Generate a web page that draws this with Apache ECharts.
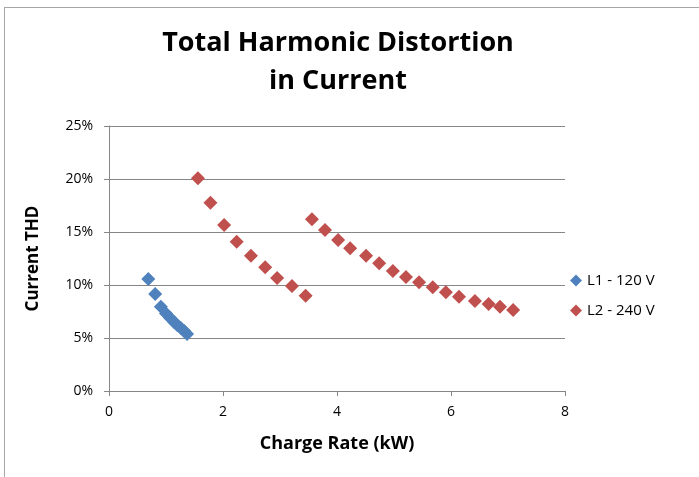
<!DOCTYPE html>
<html>
<head>
<meta charset="utf-8">
<script src="https://cdn.jsdelivr.net/npm/echarts@6/dist/echarts.min.js"></script>
<style>
html,body{margin:0;padding:0;background:#fff;}
#frame{position:absolute;left:4px;top:7px;width:700px;height:480px;border-left:1px solid #a6a6a6;border-top:1px solid #a6a6a6;}
#chart{position:absolute;left:0;top:0;width:699px;height:477px;}
</style>
</head>
<body>
<div id="frame"></div>
<div id="chart"></div>
<script>
const titleText = "Total Harmonic Distortion\nin Current";
const xAxisName = "Charge Rate (kW)";
const yAxisName = "Current THD";
const seriesNames = ["L1 - 120 V", "L2 - 240 V"];
const l1X = [0.69, 0.81, 0.91, 1.00, 1.07, 1.14, 1.20, 1.26, 1.32, 1.37];
const l1Y = [10.57, 9.15, 7.95, 7.3, 6.9, 6.5, 6.2, 5.95, 5.65, 5.38];
const l2X = [1.56, 1.78, 2.02, 2.24, 2.49, 2.74, 2.95, 3.21, 3.45,
             3.56, 3.79, 4.02, 4.23, 4.51, 4.74, 4.98, 5.21, 5.44, 5.68, 5.91, 6.14, 6.42, 6.66, 6.86, 7.09];
const l2Y = [20.07, 17.76, 15.66, 14.08, 12.76, 11.67, 10.66, 9.91, 8.99,
             16.2, 15.2, 14.25, 13.46, 12.76, 12.05, 11.32, 10.75, 10.25, 9.78, 9.31, 8.9, 8.5, 8.2, 7.95, 7.64];

const font = "'Open Sans', 'Noto Sans', sans-serif";
const chart = echarts.init(document.getElementById('chart'), null, {renderer: 'canvas'});
function pairs(xs, ys){ return xs.map((x,i)=>[x, ys[i]]); }
chart.setOption({
  animation: false,
  backgroundColor: 'transparent',
  title: {
    text: titleText, left: 333, top: 19, textAlign: 'center',
    textStyle: {fontFamily: font, fontWeight: 'bold', fontSize: 27, color: '#000', lineHeight: 38}
  },
  legend: {
    orient: 'vertical', left: 565, top: 268, itemGap: 15,
    itemWidth: 12, itemHeight: 12,
    textStyle: {fontFamily: font, fontSize: 15, color: '#000'},
    data: [{name: seriesNames[0], icon: 'diamond'}, {name: seriesNames[1], icon: 'diamond'}]
  },
  grid: {left: 109, top: 126, width: 456, height: 265, containLabel: false},
  xAxis: {
    type: 'value', min: 0, max: 8, interval: 2,
    name: xAxisName, nameLocation: 'middle', nameGap: 44,
    nameTextStyle: {fontFamily: font, fontWeight: 'bold', fontSize: 18, color: '#000'},
    axisLine: {show: true, lineStyle: {color: '#868686'}},
    axisTick: {show: true, length: 5, lineStyle: {color: '#868686'}},
    axisLabel: {fontFamily: font, fontSize: 14, color: '#000', margin: 14},
    splitLine: {show: false}
  },
  yAxis: {
    type: 'value', min: 0, max: 25, interval: 5,
    name: yAxisName, nameLocation: 'middle', nameGap: 67, nameRotate: 90,
    nameTextStyle: {fontFamily: font, fontWeight: 'bold', fontSize: 17, color: '#000'},
    axisLine: {show: true, lineStyle: {color: '#868686'}},
    axisTick: {show: true, length: 5, inside: false, lineStyle: {color: '#868686'}},
    axisLabel: {fontFamily: font, fontSize: 14, color: '#000', margin: 16, formatter: v => v + '%'},
    splitLine: {show: true, lineStyle: {color: '#868686', width: 1}}
  },
  series: [
    {name: seriesNames[0], type: 'scatter', symbol: 'diamond', symbolSize: 14,
     itemStyle: {color: '#4F81BD', opacity: 1}, data: pairs(l1X, l1Y)},
    {name: seriesNames[1], type: 'scatter', symbol: 'diamond', symbolSize: 14,
     itemStyle: {color: '#C0504D', opacity: 1}, data: pairs(l2X, l2Y)}
  ]
});
</script>
</body>
</html>
